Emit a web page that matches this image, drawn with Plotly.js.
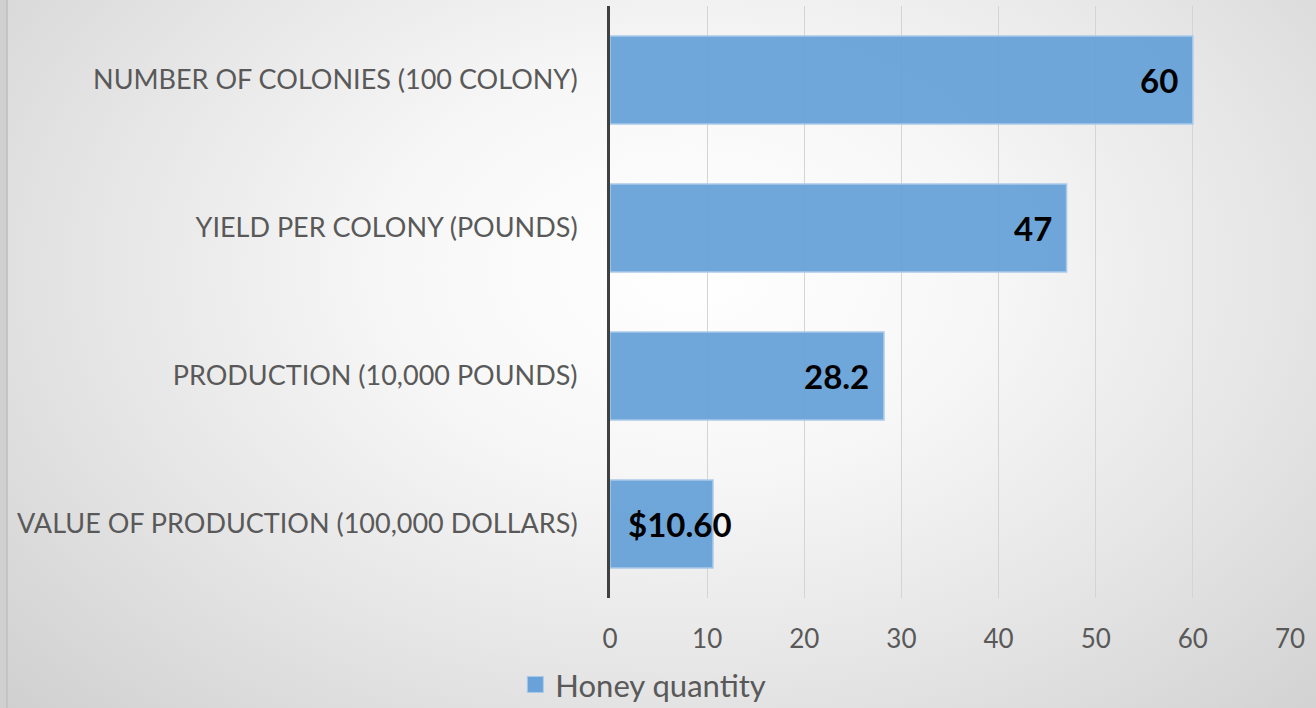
<!DOCTYPE html>
<html>
<head>
<meta charset="utf-8">
<script src="https://cdn.plot.ly/plotly-3.0.1.min.js"></script>
<style>
  html, body { margin: 0; padding: 0; width: 1316px; height: 708px; overflow: hidden; }
  body { background: #d0d0d0; }
  #frame { position: absolute; left: 6px; top: 0; width: 1310px; height: 708px;
    border-left: 2px solid #c4c4c4; box-sizing: border-box;
    background: radial-gradient(ellipse 75% 95% at 52% 38%, #ffffff 0%, #f7f7f7 30%, #e6e6e6 60%, #cdcdcd 100%); }
  #chart { position: absolute; left: 0; top: 0; width: 1316px; height: 708px; }
</style>
</head>
<body>
<div id="frame"></div>
<div id="chart"></div>
<script>
const categories = [
  "VALUE OF PRODUCTION (100,000 DOLLARS)",
  "PRODUCTION (10,000 POUNDS)",
  "YIELD PER COLONY (POUNDS)",
  "NUMBER OF COLONIES (100 COLONY)"
];
const values = [10.6, 28.2, 47, 60];
const valueLabels = ["$10.60", "28.2", "47", "60"];
const xTicks = [0, 10, 20, 30, 40, 50, 60, 70];
const seriesName = "Honey quantity";

const font = "Lato, 'Open Sans', 'Noto Sans', sans-serif";
const barColor = "rgba(100,160,215,0.92)";

const barTrace = {
  type: "bar",
  orientation: "h",
  name: seriesName,
  y: categories,
  x: values,
  showlegend: false,
  marker: { color: barColor, line: { color: "#a9c9ea", width: 1.5 } },
  hoverinfo: "skip"
};

// legend-only entry with a larger square swatch
const legendTrace = {
  type: "scatter",
  mode: "markers",
  name: seriesName,
  x: [null],
  y: [null],
  showlegend: true,
  marker: { symbol: "square", size: 20, color: "rgb(104,162,216)", line: { color: "#a9c9ea", width: 1 } },
  hoverinfo: "skip"
};

// data labels: inside end for wide bars, inside start when the bar is too short
const annotations = values.map((v, i) => {
  const fits = v >= 20;
  return {
    x: fits ? v : 0,
    y: categories[i],
    xref: "x", yref: "y",
    text: "<b>" + valueLabels[i] + "</b>",
    showarrow: false,
    xanchor: fits ? "right" : "left",
    xshift: fits ? -13 : 16,
    yanchor: "middle",
    font: { family: font, size: 33, color: "#000000" }
  };
});

const layout = {
  width: 1316, height: 708,
  paper_bgcolor: "rgba(0,0,0,0)",
  plot_bgcolor: "rgba(0,0,0,0)",
  margin: { l: 610, r: 26, t: 6, b: 110, autoexpand: false },
  bargap: 0.405,
  showlegend: true,
  legend: {
    orientation: "h", x: 0.049, xanchor: "center", y: -0.101, yanchor: "top",
    itemsizing: "trace",
    font: { family: font, size: 31, color: "#595959" },
    bgcolor: "rgba(0,0,0,0)"
  },
  annotations: annotations,
  xaxis: {
    range: [0, 70],
    tickvals: xTicks,
    showgrid: true, gridcolor: "#d4d4d4", gridwidth: 1,
    zeroline: false,
    showline: false,
    ticks: "",
    ticklabelstandoff: 23,
    tickfont: { family: font, size: 26, color: "#595959" }
  },
  yaxis: {
    showgrid: false,
    showline: true, linecolor: "#404040", linewidth: 3,
    ticks: "",
    ticklabelstandoff: 24,
    tickfont: { family: font, size: 27, color: "#595959" }
  }
};

Plotly.newPlot("chart", [barTrace, legendTrace], layout, { displayModeBar: false, staticPlot: true });
</script>
</body>
</html>
